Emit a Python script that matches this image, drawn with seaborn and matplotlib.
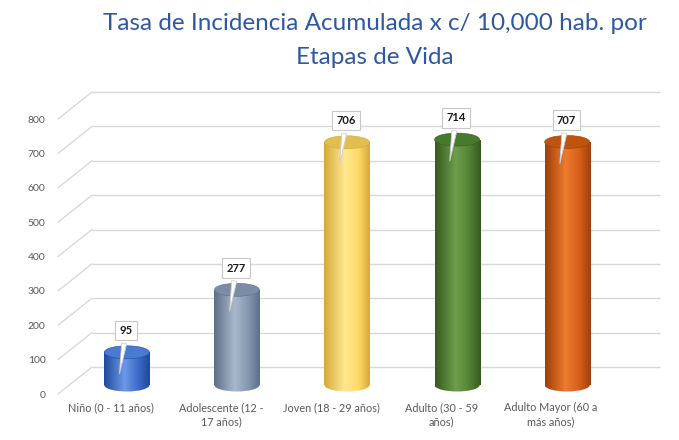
import matplotlib
matplotlib.use('Agg')
import matplotlib.pyplot as plt
import matplotlib.transforms as mtransforms
from matplotlib.colors import LinearSegmentedColormap
from matplotlib.patches import Ellipse
import numpy as np
import pandas as pd
import seaborn as sns

# datos
etapas = ['Niño (0 - 11 años)', 'Adolescente (12 -\n17 años)', 'Joven (18 - 29 años)',
          'Adulto (30 - 59\naños)', 'Adulto Mayor (60 a\nmás años)']
tasa = [95, 277, 706, 714, 707]
ticks_y = [0, 100, 200, 300, 400, 500, 600, 700, 800]

# colores de cada cilindro: (base, borde oscuro, brillo, tapa)
base = ['#3A6BC9', '#8496B0', '#FFD966', '#548235', '#D4601A']
oscuro = ['#1F4A9A', '#5D6F88', '#D4AA3A', '#355A1E', '#9E3F0A']
claro = ['#6E98E8', '#A9B8CC', '#FFE890', '#6E9E4C', '#EE7A2E']
tapa = ['#4A7BD4', '#7B8DA6', '#E2BE50', '#477A2C', '#BF540F']

sns.set_style('white')
plt.rcParams['font.family'] = ['Lato', 'DejaVu Sans']

W, H = 679, 440
fig = plt.figure(figsize=(W / 100, H / 100), dpi=100)
# plano frontal del gráfico 3D (en píxeles)
left, right, bottom, top = 58, 626, 394, 119
ax = fig.add_axes([left / W, (H - bottom) / H, (right - left) / W, (bottom - top) / H])

df = pd.DataFrame({'etapa': etapas, 'tasa': tasa})
sns.barplot(data=df, x='etapa', y='tasa', hue='etapa', palette=base, legend=False,
            width=0.41, ax=ax, zorder=3)

xlim = (-0.48, 4.68)
ax.set_xlim(*xlim)
ax.set_ylim(0, 800)
px_x = (right - left) / (xlim[1] - xlim[0])
px_y = (bottom - top) / 800

# desplazamientos de profundidad
fondo = mtransforms.ScaledTranslation(34 / 100, 27 / 100, fig.dpi_scale_trans)
medio = mtransforms.ScaledTranslation(16 / 100, 9 / 100, fig.dpi_scale_trans)
t_fondo = ax.transData + fondo
t_medio = ax.transData + medio

# rejilla de la pared del fondo y diagonales laterales
ax.hlines(ticks_y, xlim[0], xlim[1], colors='#D9D9D9', lw=1, transform=t_fondo,
          clip_on=False, zorder=1)
for t in ticks_y:
    ax.plot([xlim[0], xlim[0] + 34 / px_x], [t, t + 27 / px_y], color='#D9D9D9',
            lw=1, clip_on=False, zorder=1)

# cilindros
cap_h = 13 / px_y
for i, p in enumerate(list(ax.patches)):
    p.set_transform(t_medio)
    p.set_edgecolor('none')
    x0, w, h = p.get_x(), p.get_width(), p.get_height()
    cx = x0 + w / 2
    cmap = LinearSegmentedColormap.from_list(
        'c%d' % i, [(0, oscuro[i]), (0.45, claro[i]), (0.75, base[i]), (1, oscuro[i])])
    grad = np.linspace(0, 1, 256).reshape(1, -1)

    fondo_el = Ellipse((cx, 0), w, cap_h, transform=t_medio, zorder=3, clip_on=False)
    ax.add_patch(fondo_el)
    fondo_el.set_visible(False)
    for clip in (p, fondo_el):
        im = ax.imshow(grad, cmap=cmap, aspect='auto', extent=(x0, x0 + w, -cap_h, h),
                       transform=t_medio, zorder=3.5, clip_on=True)
        im.set_clip_path(clip)

    ax.add_patch(Ellipse((cx, h), w, cap_h, transform=t_medio, facecolor=tapa[i],
                         edgecolor=oscuro[i], lw=0.4, zorder=4, clip_on=False))

    ax.annotate(str(tasa[i]), xy=(cx - 0.07, h - 70), xycoords=t_medio,
                xytext=(5, 33), textcoords='offset points', ha='center', va='center',
                fontsize=8, fontweight='bold', color='#1A1A1A', zorder=6,
                bbox=dict(boxstyle='square,pad=0.38', fc='white', ec='#C8C8C8', lw=0.8),
                arrowprops=dict(arrowstyle='wedge,tail_width=0.45,shrink_factor=0.5',
                                fc='white', ec='#D0D0D0', lw=0.6))

ax.set_xlim(*xlim)
ax.set_ylim(0, 800)
ax.set_yticks(ticks_y)
ax.set_xticks(range(len(etapas)))
ax.set_xticklabels(etapas, fontsize=7.8, color='#595959', linespacing=1.3)
ax.tick_params(axis='y', labelsize=7.5, labelcolor='#595959', length=0, pad=9)
ax.tick_params(axis='x', length=0, pad=6)
ax.set_xlabel('')
ax.set_ylabel('')
sns.despine(ax=ax, left=True, bottom=True)
ax.patch.set_alpha(0)

fig.text(375 / W, 1 - 23 / H, 'Tasa de Incidencia Acumulada x c/ 10,000 hab. por',
         ha='center', va='center', fontsize=17.5, color='#2F58A2')
fig.text(375 / W, 1 - 57 / H, 'Etapas de Vida', ha='center', va='center',
         fontsize=17.5, color='#2F58A2')

fig.savefig('out.png', dpi=100)
